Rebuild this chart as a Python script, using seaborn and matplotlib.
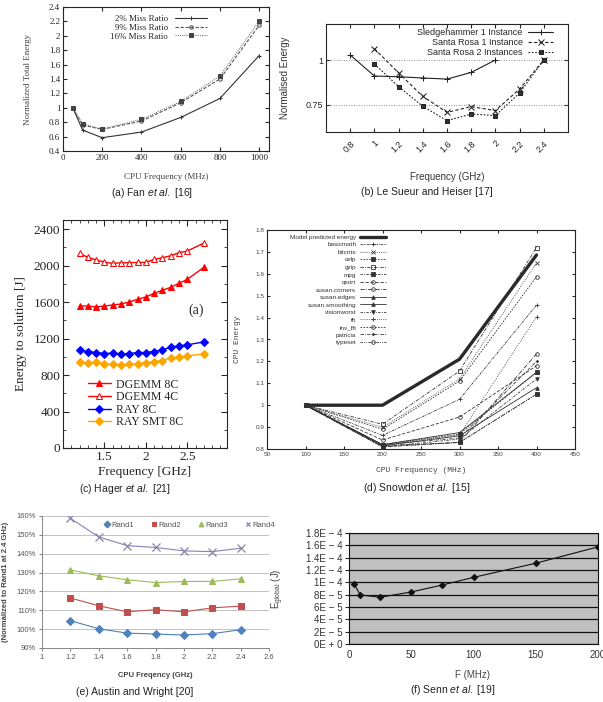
import numpy as np
import matplotlib
matplotlib.use("Agg")
import matplotlib.pyplot as plt
import seaborn as sns
from matplotlib.ticker import MultipleLocator, FixedLocator, FuncFormatter

# ---- values ----
# (a) Fan et al.
fan_freq = [50, 100, 200, 400, 600, 800, 1000]
fan_miss2 = [1.0, 0.69, 0.585, 0.663, 0.866, 1.13, 1.726]
fan_miss9 = [1.0, 0.76, 0.70, 0.816, 1.07, 1.40, 2.146]
fan_miss16 = [1.0, 0.774, 0.705, 0.839, 1.088, 1.44, 2.206]

# (b) Le Sueur and Heiser
sledge_freq = [0.8, 1.0, 1.2, 1.4, 1.6, 1.8, 2.0]
sledge_energy = [1.028, 0.911, 0.907, 0.900, 0.894, 0.931, 1.0]
rosa_freq = [1.0, 1.2, 1.4, 1.6, 1.8, 2.0, 2.2, 2.4]
rosa1_energy = [1.063, 0.928, 0.798, 0.709, 0.741, 0.719, 0.839, 1.0]
rosa2_energy = [0.978, 0.852, 0.743, 0.663, 0.700, 0.691, 0.817, 1.0]
lesueur_ticks = [0.8, 1.0, 1.2, 1.4, 1.6, 1.8, 2.0, 2.2, 2.4]
lesueur_yticks = [0.75, 1.0]

# (c) Hager et al.
hager_freq = [1.2, 1.3, 1.4, 1.5, 1.6, 1.7, 1.8, 1.9, 2.0, 2.1, 2.2, 2.3, 2.4, 2.5, 2.7]
dgemm8 = [1557, 1557, 1546, 1557, 1568, 1579, 1601, 1630, 1656, 1696, 1729, 1762, 1805, 1849, 1980]
dgemm4 = [2134, 2090, 2061, 2039, 2024, 2031, 2031, 2035, 2035, 2068, 2086, 2108, 2141, 2159, 2247]
ray8 = [1076, 1058, 1047, 1036, 1040, 1032, 1036, 1047, 1047, 1058, 1076, 1105, 1120, 1131, 1163]
raysmt8 = [945, 930, 941, 923, 919, 915, 919, 923, 937, 948, 959, 988, 999, 1010, 1032]

# (d) Snowdon et al.
snow_freq = [100, 200, 300, 400]
snow_model = [1.0, 1.0, 1.21, 1.686]
basicmath = [1.0, 0.862, 1.027, 1.457]
bitcnts = [1.0, 0.899, 1.12, 1.65]
celp = [1.0, 0.82, 0.868, 1.15]
gzip = [1.0, 0.913, 1.156, 1.72]
mpg = [1.0, 0.81, 0.83, 1.05]
qsort = [1.0, 0.841, 0.946, 1.18]
susan_corners = [1.0, 0.815, 0.83, 1.234]
susan_edges = [1.0, 0.82, 0.875, 1.15]
susan_smoothing = [1.0, 0.815, 0.86, 1.08]
visionworst = [1.0, 0.81, 0.845, 1.12]
fft = [1.0, 0.82, 0.864, 1.404]
inv_fft = [1.0, 0.89, 1.11, 1.587]
patricia = [1.0, 0.82, 0.85, 1.20]
typeset = [1.0, 0.81, 0.83, 1.05]

# (e) Austin and Wright
aw_freq = [1.2, 1.4, 1.6, 1.8, 2.0, 2.2, 2.4]
rand1 = [104.5, 100.2, 97.9, 97.4, 96.9, 97.6, 99.7]
rand2 = [116.5, 112.4, 109.2, 110.3, 109.2, 111.3, 112.2]
rand3 = [131.4, 128.3, 126.2, 124.7, 125.3, 125.3, 126.7]
rand4 = [158.8, 148.9, 144.3, 143.3, 141.5, 141.1, 142.9]

# (f) Senn et al.
senn_freq = [4, 9, 25, 50, 75, 100, 150, 200]
senn_energy = [9.78e-5, 7.96e-5, 7.58e-5, 8.44e-5, 9.57e-5, 1.08e-4, 1.31e-4, 1.575e-4]
senn_yticks = [0, 2e-5, 4e-5, 6e-5, 8e-5, 1e-4, 1.2e-4, 1.4e-4, 1.6e-4, 1.8e-4]
senn_yticklabels = ["0E + 0", "2E \u2212 5", "4E \u2212 5", "6E \u2212 5", "8E \u2212 5",
                    "1E \u2212 4", "1.2E \u2212 4", "1.4E \u2212 4", "1.6E \u2212 4", "1.8E \u2212 4"]

captions = ["(a) Fan $\\mathit{et\\ al.}$ [16]", "(b) Le Sueur and Heiser [17]",
            "(c) Hager $\\mathit{et\\ al.}$ [21]", "(d) Snowdon $\\mathit{et\\ al.}$ [15]",
            "(e) Austin and Wright [20]", "(f) Senn $\\mathit{et\\ al.}$ [19]"]

# ---- style ----
sns.set_style("ticks")
plt.rcParams['font.family'] = ['Liberation Sans', 'DejaVu Sans']
plt.rcParams['mathtext.fontset'] = 'custom'
plt.rcParams['mathtext.rm'] = 'Liberation Sans'
plt.rcParams['mathtext.it'] = 'Liberation Sans:italic'
plt.rcParams['axes.linewidth'] = 0.8

W, H = 603, 702
fig = plt.figure(figsize=(W / 100, H / 100), dpi=100)


def box(x0, y0, x1, y1):
    # pixel box (from top-left) -> figure axes
    return fig.add_axes([x0 / W, 1 - y1 / H, (x1 - x0) / W, (y1 - y0) / H])


def line(ax, x, y, **kw):
    sns.lineplot(x=x, y=y, ax=ax, legend=False, errorbar=None, **kw)


def inward(ax, size, length=3):
    ax.tick_params(which='both', direction='in', top=True, right=True, labelsize=size, pad=2)
    ax.tick_params(which='major', length=length)
    ax.tick_params(which='minor', length=length * 0.6)


serif = ['Liberation Serif', 'DejaVu Serif']

# ---- (a) Fan et al. ----
ax = box(63, 7, 269, 151)
line(ax, fan_freq, fan_miss2, color='#333333', lw=0.8, marker='+', ms=3, mec='#333333', label='2% Miss Ratio')
line(ax, fan_freq, fan_miss9, color='#555555', lw=0.8, ls=(0, (3, 1.5)), marker='o', ms=2.5, mfc='none',
     mec='#555555', label='9% Miss Ratio')
line(ax, fan_freq, fan_miss16, color='#777777', lw=0.8, ls=(0, (1, 1)), marker='s', ms=2.2, mec='#444444',
     mfc='#444444', label='16% Miss Ratio')
ax.set_xlim(0, 1050)
ax.set_ylim(0.4, 2.4)
ax.xaxis.set_major_locator(MultipleLocator(200))
ax.yaxis.set_major_locator(MultipleLocator(0.2))
ax.yaxis.set_major_formatter(FuncFormatter(lambda v, p: f"{v:g}"))
inward(ax, 6.5)
for t in ax.get_xticklabels() + ax.get_yticklabels():
    t.set_fontfamily(serif)
ax.set_xlabel('CPU Frequency (MHz)', fontsize=6.5, fontfamily=serif, color='#444444')
ax.set_ylabel('Normalized Total Energy', fontsize=6.5, fontfamily=serif, color='#444444')
ax.xaxis.set_label_coords(0.5, -0.15)
ax.yaxis.set_label_coords(-0.15, 0.5)
ax.legend(loc='upper right', bbox_to_anchor=(0.73, 0.99), frameon=False, markerfirst=False,
          prop={'family': serif, 'size': 6.5}, handlelength=3.5, labelspacing=0.05, borderpad=0.2)

# ---- (b) Le Sueur and Heiser ----
ax = box(326, 24, 568, 132)
for lvl in lesueur_yticks:
    ax.axhline(lvl, color='#666666', lw=0.6, ls=(0, (1, 2)))
line(ax, sledge_freq, sledge_energy, color='#222222', lw=0.8, marker='+', ms=4, mec='#222222',
     label='Sledgehammer 1 Instance')
line(ax, rosa_freq, rosa1_energy, color='#222222', lw=0.8, ls=(0, (3, 2)), marker='x', ms=4, mec='#222222',
     label='Santa Rosa 1 Instance')
line(ax, rosa_freq, rosa2_energy, color='#222222', lw=0.8, ls=(0, (1.5, 1.5)), marker='s', ms=3,
     mec='#222222', mfc='#333333', label='Santa Rosa 2 Instances')
ax.set_xlim(0.6, 2.6)
ax.set_ylim(0.6, 1.2)
ax.xaxis.set_major_locator(FixedLocator(lesueur_ticks))
ax.xaxis.set_major_formatter(FuncFormatter(lambda v, p: f"{v:g}"))
ax.yaxis.set_major_locator(FixedLocator(lesueur_yticks))
ax.yaxis.set_major_formatter(FuncFormatter(lambda v, p: f"{v:g}"))
inward(ax, 6.5)
plt.setp(ax.get_xticklabels(), rotation=45, ha='right', rotation_mode='anchor')
ax.tick_params(axis='x', pad=5)
ax.set_xlabel('Frequency (GHz)', fontsize=7, color='#333333')
ax.set_ylabel('Normalised Energy', fontsize=7, color='#333333')
ax.xaxis.set_label_coords(0.5, -0.37)
ax.yaxis.set_label_coords(-0.15, 0.5)
ax.legend(loc='upper right', bbox_to_anchor=(0.965, 1.02), frameon=False, markerfirst=False,
          fontsize=6.5, handlelength=2.8, labelspacing=0.1, borderpad=0.2, handletextpad=0.6)

# ---- (c) Hager et al. ----
ax = box(63, 220, 227, 448)
line(ax, hager_freq, dgemm8, color='#ff0000', lw=1.0, marker='^', ms=4.5, mec='#ff0000', mfc='#ff0000',
     label='DGEMM 8C')
line(ax, hager_freq, dgemm4, color='#ff0000', lw=1.0, marker='^', ms=4.5, mec='#ff0000', mfc='white',
     label='DGEMM 4C')
line(ax, hager_freq, ray8, color='#0000ff', lw=1.0, marker='D', ms=4, mec='#0000ff', mfc='#0000ff',
     label='RAY 8C')
line(ax, hager_freq, raysmt8, color='#ffa500', lw=1.0, marker='D', ms=4, mec='#ffa500', mfc='#ffa500',
     label='RAY SMT 8C')
ax.set_xlim(1.0, 2.98)
ax.set_ylim(0, 2500)
ax.xaxis.set_major_locator(FixedLocator([1.5, 2.0, 2.5]))
ax.xaxis.set_minor_locator(MultipleLocator(0.1))
ax.xaxis.set_major_formatter(FuncFormatter(lambda v, p: f"{v:g}"))
ax.yaxis.set_major_locator(MultipleLocator(400))
ax.yaxis.set_minor_locator(MultipleLocator(200))
inward(ax, 9.5, length=4)
for t in ax.get_xticklabels() + ax.get_yticklabels():
    t.set_fontfamily(serif)
ax.set_xlabel('Frequency [GHz]', fontsize=9.5, fontfamily=serif)
ax.set_ylabel('Energy to solution [J]', fontsize=9.5, fontfamily=serif)
ax.xaxis.set_label_coords(0.5, -0.08)
ax.yaxis.set_label_coords(-0.22, 0.5)
ax.text(0.81, 0.605, '(a)', transform=ax.transAxes, fontsize=10, fontfamily=serif, ha='center', va='center')
ax.legend(loc='lower left', bbox_to_anchor=(0.1, 0.05), frameon=False, prop={'family': serif, 'size': 8.5},
          handlelength=2.0, labelspacing=0.05, borderpad=0.2, handletextpad=0.4)

# ---- (d) Snowdon et al. ----
ax = box(267, 230, 575, 449)
line(ax, snow_freq, snow_model, color='#2a2a2a', lw=2.4, label='Model predicted energy')
bench = [('basicmath', basicmath, '+', (0, (3, 1, 1, 1, 1, 1))),
         ('bitcnts', bitcnts, 'x', (0, (1, 1.5))),
         ('celp', celp, 's', (0, (2, 1.5))),
         ('gzip', gzip, 's', (0, (4, 1.5, 1, 1.5))),
         ('mpg', mpg, 's', (0, (3, 1.5, 1, 1.5))),
         ('qsort', qsort, 'o', (0, (4, 2))),
         ('susan.corners', susan_corners, 'o', (0, (5, 1.5, 1, 1.5))),
         ('susan.edges', susan_edges, '^', '-'),
         ('susan.smoothing', susan_smoothing, '^', '-'),
         ('visionworst', visionworst, 'v', (0, (3, 1.5, 1, 1.5))),
         ('fft', fft, '+', (0, (1, 1.5))),
         ('inv_fft', inv_fft, 'o', (0, (2, 1.5))),
         ('patricia', patricia, '.', (0, (4, 1.5, 1, 1.5))),
         ('typeset', typeset, 'o', (0, (3, 1.5, 1, 1.5, 1, 1.5)))]
for i, (name, vals, mk, ls) in enumerate(bench):
    filled = mk in ('s', '.', '^', 'v') and name not in ('gzip',)
    line(ax, snow_freq, vals, color='#333333', lw=0.6, ls=ls, marker=mk, ms=2.6, mec='#333333',
         mew=0.6, mfc='#333333' if filled else 'none', label=name)
ax.set_xlim(50, 450)
ax.set_ylim(0.8, 1.8)
ax.xaxis.set_major_locator(MultipleLocator(50))
ax.yaxis.set_major_locator(MultipleLocator(0.1))
ax.yaxis.set_major_formatter(FuncFormatter(lambda v, p: f"{v:g}"))
inward(ax, 4.6, length=2.5)
for t in ax.get_xticklabels() + ax.get_yticklabels():
    t.set_color('#444444')
mono = ['Liberation Mono', 'DejaVu Sans Mono']
ax.set_xlabel('CPU Frequency (MHz)', fontsize=5.8, fontfamily=mono, color='#444444')
ax.set_ylabel('CPU Energy', fontsize=5.8, fontfamily=mono, color='#444444')
ax.xaxis.set_label_coords(0.5, -0.08)
ax.yaxis.set_label_coords(-0.085, 0.5)
ax.legend(loc='upper right', bbox_to_anchor=(0.40, 1.0), frameon=False, markerfirst=False,
          fontsize=4.6, handlelength=4.0, labelspacing=0.32, borderpad=0.2, handletextpad=0.6,
          labelcolor='#333333')

# ---- (e) Austin and Wright ----
ax = box(42, 516, 269, 648)
line(ax, aw_freq, rand1, color='#4f81bd', lw=0.8, marker='D', ms=4.5, mec='#4f81bd', mfc='#4f81bd',
     label='Rand1')
line(ax, aw_freq, rand2, color='#c0504d', lw=0.8, marker='s', ms=5, mec='#c0504d', mfc='#c0504d',
     label='Rand2')
line(ax, aw_freq, rand3, color='#9bbb59', lw=0.8, marker='^', ms=5, mec='#9bbb59', mfc='#9bbb59',
     label='Rand3')
line(ax, aw_freq, rand4, color='#8c7fb8', lw=0.8, marker='x', ms=6, mec='#8a84a8', mew=0.9,
     label='Rand4')
ax.set_xlim(1.0, 2.6)
ax.set_ylim(90, 160)
ax.xaxis.set_major_locator(MultipleLocator(0.2))
ax.xaxis.set_major_formatter(FuncFormatter(lambda v, p: f"{v:g}"))
ax.yaxis.set_major_locator(MultipleLocator(10))
ax.yaxis.set_major_formatter(FuncFormatter(lambda v, p: f"{v:.0f}%"))
ax.grid(axis='y', color='#b8b8b8', lw=0.6)
ax.set_axisbelow(True)
for s in ('top', 'right'):
    ax.spines[s].set_visible(False)
for s in ('left', 'bottom'):
    ax.spines[s].set_color('#888888')
    ax.spines[s].set_linewidth(0.7)
ax.tick_params(direction='out', length=2.5, color='#888888', labelsize=5.5, labelcolor='#555555', pad=2)
ax.set_xlabel('CPU Freqency (GHz)', fontsize=5.5, fontweight='bold', color='#444444')
ax.set_ylabel('(Normalized to Rand1 at 2.4 GHz)', fontsize=5.5, fontweight='bold', color='#444444')
ax.xaxis.set_label_coords(0.5, -0.18)
ax.yaxis.set_label_coords(-0.145, 0.5)
ax.legend(loc='center', bbox_to_anchor=(0.65, 0.93), ncol=4, frameon=False, fontsize=5.5,
          handlelength=0.8, handletextpad=0.2, columnspacing=2.2, labelcolor='#555555')
for h in ax.get_legend().legend_handles:
    h.set_linestyle('none')
    h.set_markersize(3.5)

# ---- (f) Senn et al. ----
ax = box(349, 533, 598, 644)
ax.set_facecolor('#c0c0c0')
line(ax, senn_freq, senn_energy, color='#111111', lw=0.8, marker='D', ms=3.2, mec='#111111', mfc='#111111')
ax.set_xlim(0, 200)
ax.set_ylim(0, 1.8e-4)
ax.xaxis.set_major_locator(MultipleLocator(50))
ax.yaxis.set_major_locator(FixedLocator(senn_yticks))
ax.set_yticklabels(senn_yticklabels)
ax.grid(axis='y', color='#111111', lw=0.9)
ax.set_axisbelow(True)
for s in ax.spines.values():
    s.set_color('#111111')
ax.tick_params(axis='y', direction='out', length=3, labelsize=7, labelcolor='#333333', pad=1.5)
ax.tick_params(axis='x', direction='out', length=0, labelsize=7, labelcolor='#333333', pad=4)
ax.set_xlabel('F (MHz)', fontsize=7, color='#444444')
ax.set_ylabel('E$_{\\mathrm{global}}$ (J)', fontsize=7, color='#444444')
ax.xaxis.set_label_coords(0.494, -0.23)
ax.yaxis.set_label_coords(-0.253, 0.5)

# ---- captions ----
cap_pos = [(152, 193), (427, 192), (125, 489), (417, 488), (135, 692), (453, 690)]
for (cx, cy), txt in zip(cap_pos, captions):
    fig.text(cx / W, 1 - cy / H, txt, ha='center', va='center', fontsize=7.5, color='#222222')

fig.savefig('out.png', dpi=100)
